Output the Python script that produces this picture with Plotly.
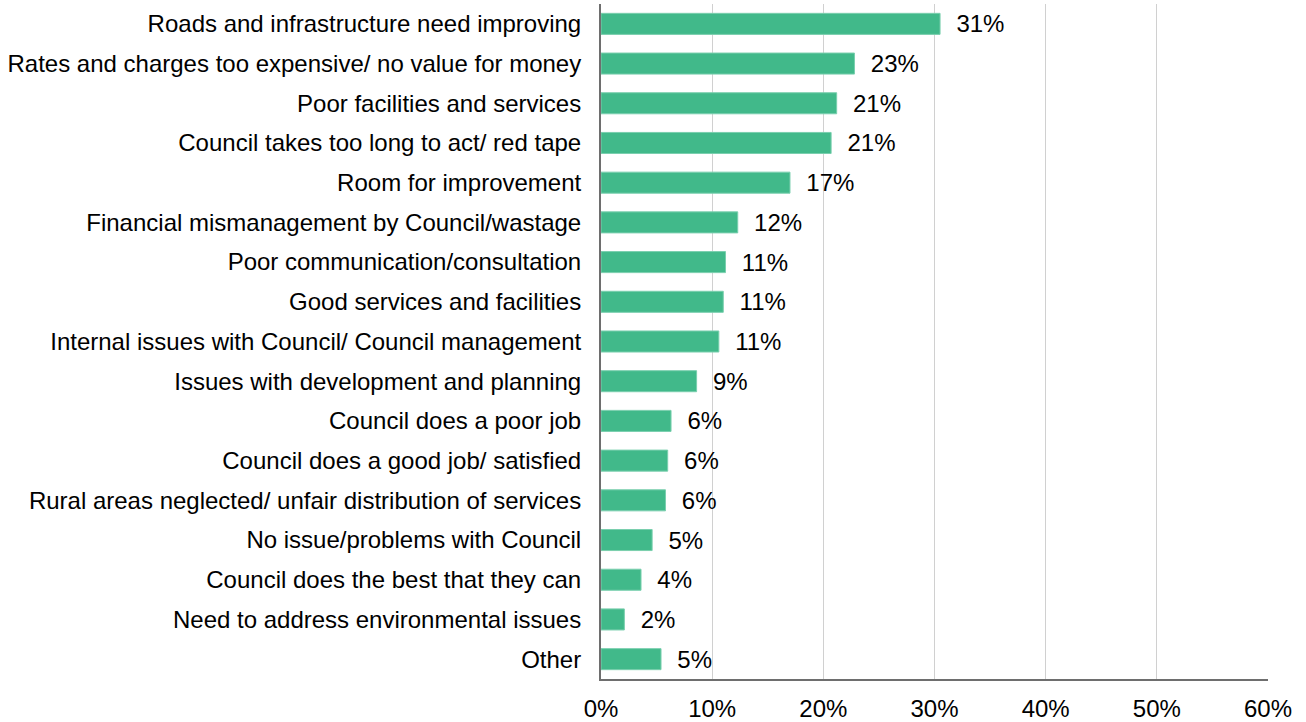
import plotly.graph_objects as go

# Survey reasons, share of respondents (fraction)
categories = [
    "Roads and infrastructure need improving",
    "Rates and charges too expensive/ no value for money",
    "Poor facilities and services",
    "Council takes too long to act/ red tape",
    "Room for improvement",
    "Financial mismanagement by Council/wastage",
    "Poor communication/consultation",
    "Good services and facilities",
    "Internal issues with Council/ Council management",
    "Issues with development and planning",
    "Council does a poor job",
    "Council does a good job/ satisfied",
    "Rural areas neglected/ unfair distribution of services",
    "No issue/problems with Council",
    "Council does the best that they can",
    "Need to address environmental issues",
    "Other",
]
shares = [0.305, 0.228, 0.212, 0.207, 0.170, 0.123, 0.112, 0.110, 0.106,
          0.086, 0.063, 0.060, 0.058, 0.046, 0.036, 0.021, 0.054]
tick_values = [0, 0.1, 0.2, 0.3, 0.4, 0.5, 0.6]
tick_labels = ["0%", "10%", "20%", "30%", "40%", "50%", "60%"]

FONT = "Liberation Sans, Arial, sans-serif"
SIZE = 24

fig = go.Figure(
    go.Bar(
        x=shares,
        y=categories,
        orientation="h",
        marker=dict(color="#41B98A", line=dict(color="#7ACFAE", width=1)),
        texttemplate="\u00a0\u00a0%{x:.0%}",
        textposition="outside",
        constraintext="none",
        textfont=dict(family=FONT, size=SIZE, color="#000000"),
        cliponaxis=False,
        hoverinfo="skip",
    )
)

fig.update_layout(
    width=1306,
    height=722,
    margin=dict(l=601, r=38, t=4, b=43),
    paper_bgcolor="white",
    plot_bgcolor="white",
    bargap=0.47,
    showlegend=False,
    font=dict(family=FONT, size=SIZE, color="#000000"),
)

fig.update_xaxes(
    range=[0, 0.6],
    tickvals=tick_values,
    ticktext=tick_labels,
    showgrid=True,
    gridcolor="#D0D0D0",
    gridwidth=1,
    showline=True,
    linecolor="#6E6E6E",
    linewidth=2,
    zeroline=False,
    ticks="",
    ticklabelstandoff=7,
    automargin=False,
    tickfont=dict(family=FONT, size=SIZE, color="#000000"),
    fixedrange=True,
)

fig.update_yaxes(
    autorange="reversed",
    showline=True,
    linecolor="#6E6E6E",
    linewidth=2,
    showgrid=False,
    ticks="",
    ticklabelstandoff=13,
    automargin=False,
    tickfont=dict(family=FONT, size=SIZE, color="#000000"),
    fixedrange=True,
)

fig.write_html("out.html")
